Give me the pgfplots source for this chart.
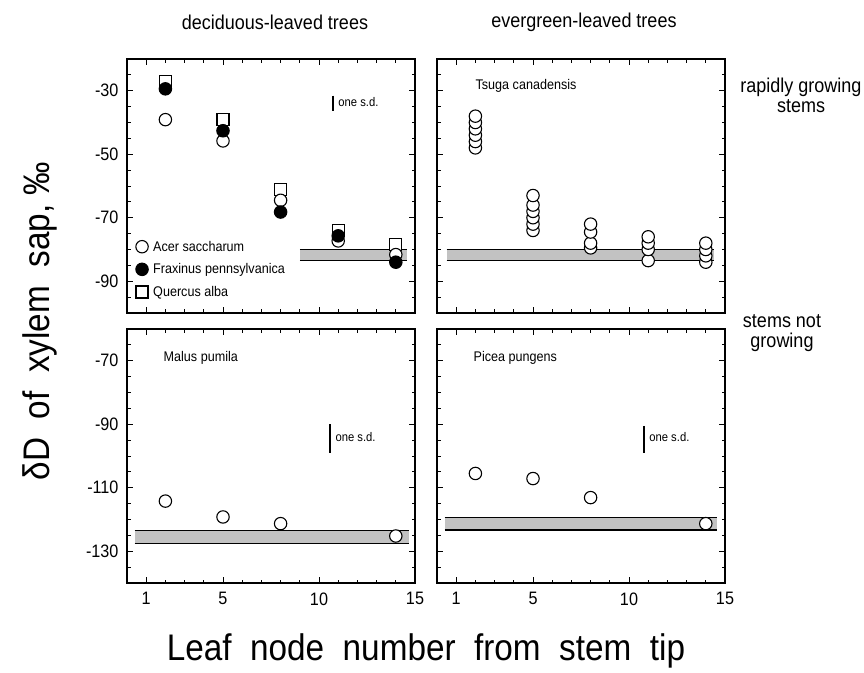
\documentclass[border=0pt]{standalone}
\usepackage{fontspec}
\setmainfont{Liberation Sans}[FakeStretch=0.9]
\usepackage{pgfplots}
\pgfplotsset{compat=1.18}
\newcommand{\fs}[1]{\fontsize{#1bp}{#1bp}\selectfont}
\definecolor{band}{gray}{0.76}
\pgfplotsset{
  panel/.style={
    width=288bp, height=254bp, scale only axis, anchor=north west,
    xmin=0, xmax=15,
    xtick={1,5,10,15},
    minor xtick={2,3,4,6,7,8,9,11,12,13,14},
    tick align=inside,
    major tick length=6bp, minor tick length=3.5bp,
    every tick/.style={black, line width=0.9bp},
    axis line style={line width=1.3bp},
    tick label style={font=\fs{18}},
    /pgf/number format/assume math mode=true,
    yticklabel style={xshift=-5bp},
    xticklabel style={yshift=-6bp},
  },
  toprow/.style={ymin=-100, ymax=-20, ytick={-90,-70,-50,-30},
    minor ytick={-95,-85,-80,-75,-65,-60,-55,-45,-40,-35,-25}, xticklabels={}},
  botrow/.style={ymin=-140, ymax=-60, ytick={-130,-110,-90,-70},
    minor ytick={-135,-125,-120,-115,-105,-100,-95,-85,-80,-75,-65}},
  ocirc/.style={only marks, mark=*, mark size=6.2bp, mark options={fill=white, draw=black, line width=1.1bp}},
  fcirc/.style={only marks, mark=*, mark size=6.2bp, mark options={fill=black, draw=black, line width=1.1bp}},
  osq/.style={only marks, mark=square*, mark size=6bp, mark options={fill=white, draw=black, line width=1.1bp}},
  edge/.style={black, line width=1.5bp, no marks},
  sdbar/.style={black, line width=2bp, no marks},
}
\begin{document}
\begin{tikzpicture}[x=1bp,y=1bp]
% ---------- top left: deciduous, rapidly growing
\begin{axis}[panel, toprow, at={(127bp,-59bp)},
  legend style={at={(axis cs:0.45,-76.6)}, anchor=north west, draw=none, fill=none,
    font=\fs{14}, row sep=7bp, column sep=3bp, inner sep=0pt},
  legend cell align=left]
\addplot[fill=band, draw=none, forget plot] coordinates {(9,-80) (14.6,-80) (14.6,-83.5) (9,-83.5)} -- cycle;
\addplot[edge, forget plot] coordinates {(9,-80) (14.6,-80)};
\addplot[edge, forget plot] coordinates {(9,-83.5) (14.6,-83.5)};
\addplot[osq, forget plot] coordinates {(2,-27) (5,-39) (8,-61.2) (11,-74) (14,-78.3)};
\addplot[ocirc, forget plot] coordinates {(2,-39.1) (5,-45.8) (8,-64.5) (11,-77.3) (14,-81.6)};
\addplot[fcirc, forget plot] coordinates {(2,-29.4) (5,-42.6) (8,-68.2) (11,-75.7) (14,-84)};
\addlegendimage{ocirc}
\addlegendentry{Acer saccharum}
\addlegendimage{fcirc}
\addlegendentry{Fraxinus pennsylvanica}
\addlegendimage{osq}
\addlegendentry{Quercus alba}
\addplot[sdbar, forget plot] coordinates {(10.75,-31.5) (10.75,-36.3)};
\node[anchor=west, font=\fs{12.5}, inner sep=0pt] at (axis cs:11.0,-33.5) {one s.d.};
\end{axis}
% ---------- top right: evergreen, rapidly growing
\begin{axis}[panel, toprow, at={(437bp,-59bp)}, yticklabels={}]
\addplot[fill=band, draw=none] coordinates {(0.5,-80) (14.45,-80) (14.45,-83.5) (0.5,-83.5)} -- cycle;
\addplot[edge] coordinates {(0.5,-80) (14.45,-80)};
\addplot[edge] coordinates {(0.5,-83.5) (14.45,-83.5)};
\addplot[ocirc] coordinates {
 (2,-48) (2,-46) (2,-44) (2,-42) (2,-40) (2,-38)
 (5,-74) (5,-72) (5,-70) (5,-68) (5,-66) (5,-63)
 (8,-79.5) (8,-78) (8,-74.5) (8,-72)
 (11,-83.5) (11,-80) (11,-78) (11,-76)
 (14,-84) (14,-82) (14,-80) (14,-78)};
\node[anchor=west, font=\fs{14}, inner sep=0pt] at (axis cs:2.0,-28.4) {Tsuga canadensis};
\end{axis}
% ---------- bottom left: Malus pumila, not growing
\begin{axis}[panel, botrow, at={(127bp,-329bp)}]
\addplot[fill=band, draw=none] coordinates {(0.4,-123.4) (14.7,-123.4) (14.7,-127.5) (0.4,-127.5)} -- cycle;
\addplot[edge] coordinates {(0.4,-123.4) (14.7,-123.4)};
\addplot[edge] coordinates {(0.4,-127.5) (14.7,-127.5)};
\addplot[ocirc] coordinates {(2,-114.2) (5,-119.2) (8,-121.3) (14,-125.2)};
\addplot[sdbar] coordinates {(10.55,-90) (10.55,-99)};
\node[anchor=west, font=\fs{12.5}, inner sep=0pt] at (axis cs:10.85,-94) {one s.d.};
\node[anchor=west, font=\fs{14}, inner sep=0pt] at (axis cs:1.9,-69) {Malus pumila};
\end{axis}
% ---------- bottom right: Picea pungens, not growing
\begin{axis}[panel, botrow, at={(437bp,-329bp)}, yticklabels={}]
\addplot[fill=band, draw=none] coordinates {(0.4,-119.4) (14.6,-119.4) (14.6,-123.3) (0.4,-123.3)} -- cycle;
\addplot[edge] coordinates {(0.4,-119.4) (14.6,-119.4)};
\addplot[edge] coordinates {(0.4,-123.3) (14.6,-123.3)};
\addplot[ocirc] coordinates {(2,-105.5) (5,-107.1) (8,-113.1) (14,-121.3)};
\addplot[sdbar] coordinates {(10.8,-90.5) (10.8,-99)};
\node[anchor=west, font=\fs{12.5}, inner sep=0pt] at (axis cs:11.05,-94) {one s.d.};
\node[anchor=west, font=\fs{14}, inner sep=0pt] at (axis cs:1.9,-69) {Picea pungens};
\end{axis}
% ---------- outer labels
\node[font=\fs{20}] at (275bp,-22bp) {deciduous-leaved trees};
\node[font=\fs{20}] at (584bp,-22bp) {evergreen-leaved trees};
\node[font=\fs{20}, align=center, inner sep=0pt] at (801bp,-95bp) {rapidly growing\\stems};
\node[font=\fs{20}, align=center, inner sep=0pt] at (782bp,-333bp) {stems not\\growing};
\node[font=\fs{37}] at (426bp,-651bp) {Leaf\ \ node\ \ number\ \ from\ \ stem\ \ tip};
\node[font=\fs{37}, rotate=90] at (40bp,-321bp) {δD\ \ of\ \ xylem\ \ sap,\ ‰};
\pgfresetboundingbox
\path[use as bounding box] (0bp,0bp) rectangle (864bp,-673bp);
\end{tikzpicture}
\end{document}
